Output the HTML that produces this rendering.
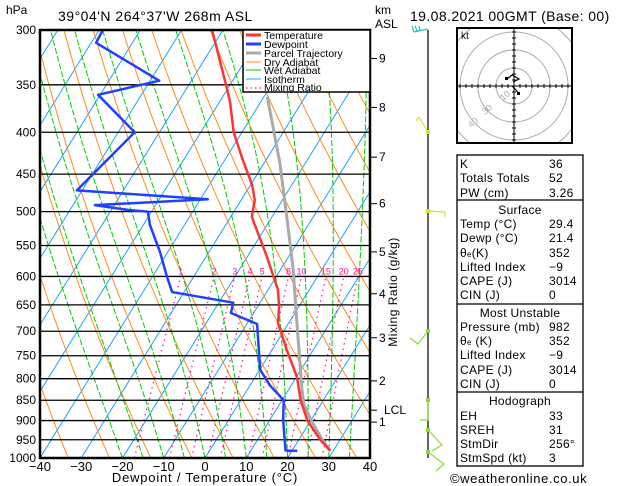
<!DOCTYPE html>
<html><head><meta charset="utf-8"><style>
html,body{margin:0;padding:0;background:#fff;}
svg{display:block;font-family:"Liberation Sans",sans-serif;}
</style></head><body>
<svg id="chart" width="629" height="486" viewBox="0 0 629 486" xmlns="http://www.w3.org/2000/svg">
<defs><clipPath id="plotclip"><rect x="40" y="30" width="330" height="428"/></clipPath>
<clipPath id="hodoclip"><rect x="457" y="28" width="115" height="115"/></clipPath></defs>
<g id="bg" clip-path="url(#plotclip)"></g>
<g id="levels"></g>
<g id="series" clip-path="url(#plotclip)"></g>
<rect x="40" y="30" width="330" height="428" fill="none" stroke="#000" stroke-width="2.5"/>
<g id="axes" font-size="12"></g>
<text x="6" y="14" font-size="12">hPa</text>
<text x="58" y="21" font-size="14" letter-spacing="0.5">39°04'N  264°37'W  268m  ASL</text>
<text x="375" y="14" font-size="12">km</text>
<text x="375" y="28" font-size="12">ASL</text>
<text x="410" y="21" font-size="14" letter-spacing="0.4">19.08.2021  00GMT  (Base: 00)</text>
<text x="205" y="482" font-size="13" text-anchor="middle" letter-spacing="0.8">Dewpoint / Temperature (°C)</text>
<text transform="translate(397,292) rotate(-90)" font-size="12" text-anchor="middle" letter-spacing="0.5">Mixing Ratio (g/kg)</text>
<g>
<rect x="243" y="30" width="127" height="62" fill="#fff" stroke="#000" stroke-width="1.5"/>
<g font-size="10.5">
<line x1="246" y1="35" x2="261" y2="35" stroke="#ff3333" stroke-width="3"/><text x="264" y="39">Temperature</text>
<line x1="246" y1="44" x2="261" y2="44" stroke="#2040ff" stroke-width="3"/><text x="264" y="48">Dewpoint</text>
<line x1="246" y1="53" x2="261" y2="53" stroke="#aaa" stroke-width="3"/><text x="264" y="57">Parcel Trajectory</text>
<line x1="246" y1="62" x2="261" y2="62" stroke="#ff8c1a" stroke-width="1"/><text x="264" y="66">Dry Adiabat</text>
<line x1="246" y1="70" x2="261" y2="70" stroke="#00cc00" stroke-width="1"/><text x="264" y="74">Wet Adiabat</text>
<line x1="246" y1="79" x2="261" y2="79" stroke="#1ea0ff" stroke-width="1"/><text x="264" y="83">Isotherm</text>
<line x1="246" y1="88" x2="261" y2="88" stroke="#ff1493" stroke-width="1.2" stroke-dasharray="1.5,3"/><text x="264" y="91">Mixing Ratio</text>
</g></g>
<g id="barbs">
<line x1="428" y1="30" x2="428" y2="458" stroke="#000" stroke-width="1.2"/>
<path d="M428,29 L414,32 M414,32 L412,26 M417,31 L415,26 M420,31 L419,26" fill="none" stroke="#20c0c0" stroke-width="1.2"/>
<path d="M428,132 L419,117 M419,117 L416,121" fill="none" stroke="#e0e030" stroke-width="1.2"/>
<path d="M428,211 L445,212 M445,212 L445,217" fill="none" stroke="#e0e030" stroke-width="1.2"/>
<path d="M428,331 L418,344 L410,338" fill="none" stroke="#88dd33" stroke-width="1.2"/>
<path d="M428,400 L428,420 L420,420" fill="none" stroke="#88dd33" stroke-width="1.2"/>
<path d="M428,430 L442,445 L432,451" fill="none" stroke="#88dd33" stroke-width="1.2"/>
<path d="M428,452 L444,464 L436,471" fill="none" stroke="#88dd33" stroke-width="1.2"/>
<g fill="#88dd33"><rect x="426" y="329" width="4" height="4"/><rect x="426" y="398" width="4" height="4"/><rect x="426" y="428" width="4" height="4"/><rect x="426" y="450" width="4" height="4"/></g>
<rect x="426" y="130" width="4" height="4" fill="#e0e030"/><rect x="426" y="209" width="4" height="4" fill="#e0e030"/>
</g>
<g id="hodo">
<g clip-path="url(#hodoclip)" fill="none" stroke="#aaa" stroke-width="1">
<circle cx="514" cy="86" r="18"/><circle cx="514" cy="86" r="36"/><circle cx="514" cy="86" r="54"/><circle cx="514" cy="86" r="72"/>
</g>
<g font-size="9" fill="#aaa"><text transform="translate(503,101) rotate(-40)">10</text><text transform="translate(485,115) rotate(-40)">30</text><text transform="translate(471,128) rotate(-40)">40</text></g>
<line x1="457" y1="86" x2="572" y2="86" stroke="#000"/><line x1="514" y1="28" x2="514" y2="143" stroke="#000"/>
<g id="hodoticks" stroke="#000"></g>
<rect x="457" y="28" width="115" height="115" fill="none" stroke="#000" stroke-width="2"/>
<text x="461" y="39" font-size="10">kt</text>
<path d="M507,79 L512,75 L519,79 L513,82 M512,86 L516,90 L519,94" fill="none" stroke="#000" stroke-width="1.2"/>
<rect x="505" y="77" width="3" height="3" fill="#000"/><rect x="517" y="92" width="3" height="3" fill="#000"/>
</g>
<g font-size="12" letter-spacing="0.3">
<rect x="457" y="155" width="126" height="311" fill="none" stroke="#000" stroke-width="1.3"/>
<line x1="457" y1="200" x2="583" y2="200" stroke="#000" stroke-width="1.3"/>
<line x1="457" y1="304" x2="583" y2="304" stroke="#000" stroke-width="1.3"/>
<line x1="457" y1="392" x2="583" y2="392" stroke="#000" stroke-width="1.3"/>
<g>
<text x="460" y="168">K</text><text x="549" y="168">36</text>
<text x="460" y="182">Totals Totals</text><text x="549" y="182">52</text>
<text x="460" y="197">PW (cm)</text><text x="549" y="197">3.26</text>
<text x="520" y="214" text-anchor="middle">Surface</text>
<text x="460" y="228">Temp (°C)</text><text x="549" y="228">29.4</text>
<text x="460" y="242">Dewp (°C)</text><text x="549" y="242">21.4</text>
<text x="460" y="257">θ<tspan font-size="8">e</tspan>(K)</text><text x="549" y="257">352</text>
<text x="460" y="271">Lifted Index</text><text x="549" y="271">−9</text>
<text x="460" y="285">CAPE (J)</text><text x="549" y="285">3014</text>
<text x="460" y="299">CIN (J)</text><text x="549" y="299">0</text>
<text x="520" y="317" text-anchor="middle">Most Unstable</text>
<text x="460" y="331">Pressure (mb)</text><text x="549" y="331">982</text>
<text x="460" y="345">θ<tspan font-size="8">e</tspan> (K)</text><text x="549" y="345">352</text>
<text x="460" y="359">Lifted Index</text><text x="549" y="359">−9</text>
<text x="460" y="374">CAPE (J)</text><text x="549" y="374">3014</text>
<text x="460" y="388">CIN (J)</text><text x="549" y="388">0</text>
<text x="520" y="405" text-anchor="middle">Hodograph</text>
<text x="460" y="420">EH</text><text x="549" y="420">33</text>
<text x="460" y="434">SREH</text><text x="549" y="434">31</text>
<text x="460" y="448">StmDir</text><text x="549" y="448">256°</text>
<text x="460" y="462">StmSpd (kt)</text><text x="549" y="462">3</text>
</g></g>
<text x="450" y="483" font-size="13" letter-spacing="0.6">©weatheronline.co.uk</text>
</svg>
<script>
// --- data ---
const pressureTicks=[300,350,400,450,500,550,600,650,700,750,800,850,900,950,1000];
const tempTicks=[-40,-30,-20,-10,0,10,20,30,40];
const kmLabels=["9","8","7","6","5","4","3","2","1"];
const kmPressures=[325,373,429,489,560,630,713,805,904];
const lclPressure=874;
const mixRatios=[1,2,3,4,5,8,10,15,20,25];
const tempP=[980,950,900,850,796,738,684,653,623,568,508,500,484,464,430,400,367,350,328,300];
const tempC=[29.3,25.2,19.2,14.5,10.1,3.6,-2.6,-4.8,-7.6,-15.2,-24.8,-25.5,-26.7,-29.6,-36.1,-42,-47.5,-51,-55.9,-62.6];
const dewP=[980,979,963,898,850,815,780,686,665,646,627,601,560,519,500,498,491,483,471,400,360,346,311,300];
const dewC=[21.3,18.4,17.4,13.2,10.4,4.8,0.1,-7.5,-15.5,-16.5,-32.9,-36.4,-41.9,-48.4,-50.9,-55.5,-64.7,-38.2,-71.3,-66,-80.5,-67.8,-88.8,-89.1];
const parcelP=[980,950,896,861,826,691,589,522,436,362];
const parcelC=[29.3,25.7,19.7,16,13.3,2.6,-6.9,-14.6,-26.2,-39.2];

const NS='http://www.w3.org/2000/svg';
function yP(p){return 30+355.5*Math.log(p/300);}
function xT(t,p){return 40+(t+40)*4.125+0.62*(458-yP(p));}
function xB(t,p){return 40+(t+40)*4.125+0.39*(458-yP(p));}
function mk(tag,attrs,parent){const e=document.createElementNS(NS,tag);for(const k in attrs)e.setAttribute(k,attrs[k]);parent.appendChild(e);return e;}
const bg=document.getElementById('bg'),lv=document.getElementById('levels'),ser=document.getElementById('series'),ax=document.getElementById('axes');

for(let t=-130;t<=40;t+=10){
 const l=mk('line',{x1:xT(t,1000),y1:yP(1000),x2:xT(t,300),y2:yP(300),stroke:'#1ea0ff','stroke-width':1},bg);
 
 
}
for(let th=220;th<=480;th+=10){
 let pts=[];for(let p=1000;p>=295;p-=10){const t=th*Math.pow(p/1000,0.2857)-273.15;pts.push(xB(t,p)+','+yP(p));}
 const l=mk('polyline',{points:pts.join(' '),fill:'none',stroke:'#ff8c1a','stroke-width':1},bg);
 
 
}
function es(t){return 6.112*Math.exp(17.67*t/(t+243.5));}
for(let t0=-20;t0<=45;t0+=5){
 let T=t0+273.15,pts=[];
 for(let p=1000;p>=300;p-=5){
  pts.push(xB(T-273.15,p)+','+yP(p));
  const rs=0.622*es(T-273.15)/(p-es(T-273.15));
  const d=(287*T+2.5e6*rs)/(p*(1004+2.5e6*2.5e6*rs*0.622/(287*T*T)));
  T-=d*5;
 }
 const l=mk('polyline',{points:pts.join(' '),fill:'none',stroke:'#00cc00','stroke-width':1,'stroke-dasharray':'6,2'},bg);
 
 
}
mixRatios.forEach(w=>{
 let pts=[];
 for(let p=1000;p>=600;p-=10){const e=w*p/(622+w),a=Math.log(e/6.112),td=243.5*a/(17.67-a);pts.push(xB(td,p)+','+yP(p));}
 const l=mk('polyline',{points:pts.join(' '),fill:'none',stroke:'#ff1493','stroke-width':1.2,'stroke-dasharray':'1.5,4'},bg);
 
 
 const e=w*600/(622+w),a=Math.log(e/6.112),td=243.5*a/(17.67-a);
 const tx=mk('text',{x:xB(td,600),y:yP(600)-2,'font-size':9,fill:'#ff1493','text-anchor':'middle'},bg);
 tx.textContent=w;
 
 
});
pressureTicks.forEach(p=>{
 const l=mk('line',{x1:40,y1:yP(p),x2:370,y2:yP(p),stroke:'#000','stroke-width':1.3},lv);
 
 
 const t=mk('text',{x:36,y:yP(p)+4,'text-anchor':'end'},ax);
 t.textContent=p;
 
 
});
tempTicks.forEach(v=>{
 const x=40+(v+40)*4.125;
 const t=mk('text',{x:x,y:471,'text-anchor':'middle','font-size':13},ax);
 t.textContent=v<0?'−'+(-v):v;
 
 
});
kmLabels.forEach((k,i)=>{
 const y=yP(kmPressures[i]);
 mk('line',{x1:370,y1:y,x2:377,y2:y,stroke:'#000'},ax);
 const t=mk('text',{x:379,y:y+4},ax);
 t.textContent=k;
 
 
});
{const y=yP(lclPressure);mk('line',{x1:370,y1:y,x2:377,y2:y,stroke:'#000'},ax);const t=mk('text',{x:384,y:y+4},ax);t.textContent='LCL';
 
 }
function series(P,C,color,w,name){
 const pts=P.map((p,i)=>xT(C[i],p)+','+yP(p)).join(' ');
 const l=mk('polyline',{points:pts,fill:'none',stroke:color,'stroke-width':w,'stroke-linejoin':'round'},ser);
 
 
}
series(parcelP,parcelC,'#aaaaaa',3,'parcel-trajectory-line');
series(dewP,dewC,'#2040ff',2.5,'dewpoint-line');
series(tempP,tempC,'#ff3333',2.5,'temperature-line');
const ht=document.getElementById('hodoticks');
for(let i=-9;i<=9;i++){if(!i)continue;const d=i*6;
 mk('line',{x1:514+d,y1:84,x2:514+d,y2:88},ht);mk('line',{x1:512,y1:86+d,x2:516,y2:86+d},ht);}
</script>
</body></html>
